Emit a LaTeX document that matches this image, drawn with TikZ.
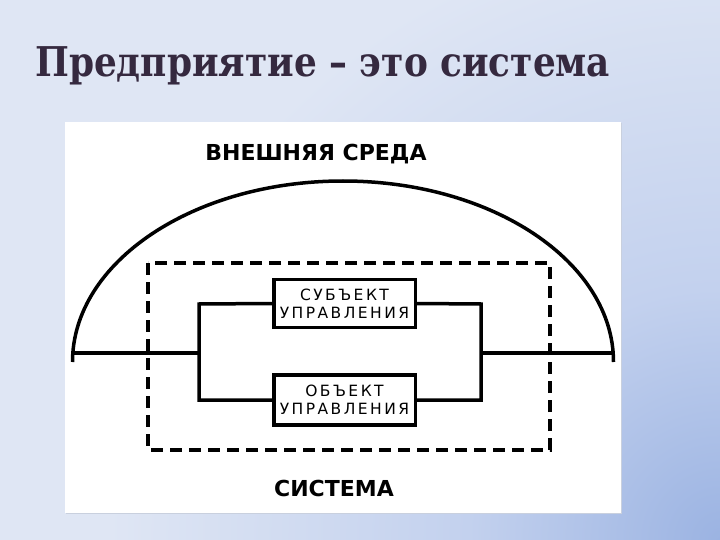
\documentclass[tikz,border=0pt]{standalone}
\usepackage{fontspec}
\usetikzlibrary{shadings}
\setmainfont{DejaVu Serif}
\newfontfamily\titlefont{DejaVu Serif}
\newfontfamily\diagbold{DejaVu Sans}
\newfontfamily\diagthin[LetterSpace=16]{DejaVu Sans}
\definecolor{bgA}{HTML}{DFE6F4}
\definecolor{bgM}{HTML}{C3D1EE}
\definecolor{bgD}{HTML}{9BB3E2}
\definecolor{titlecol}{HTML}{35293F}
\definecolor{paneledge}{HTML}{C9D0DE}
\pgfdeclareradialshading{cornerglow}{\pgfpoint{0bp}{0bp}}{color(0bp)=(bgD); color(7bp)=(bgM); color(17bp)=(bgA); color(50bp)=(bgA)}
\tikzset{
  solidline/.style={line width=3.5pt, black},
  dashline/.style={line width=4pt, black, dash pattern=on 12pt off 7pt},
  ctrlbox/.style={draw=black, line width=3.5pt, fill=white, minimum width=141.5pt,
    minimum height=48pt, inner sep=0pt, align=center,
    font=\diagthin\fontsize{15.5}{18}\selectfont},
  biglabel/.style={font=\diagbold\bfseries\fontsize{22}{24}\selectfont, inner sep=0pt}
}
\begin{document}
\begin{tikzpicture}[x=1pt,y=-1pt]
\useasboundingbox (0,0) rectangle (720,540);
% background
\fill[bgA] (0,0) rectangle (720,540);
\begin{scope}
  \clip (0,0) rectangle (720,540);
  \shade[shading=cornerglow] (720,540) circle[radius=900];
\end{scope}
% title
\node[anchor=base west, inner sep=0pt, text=titlecol,
  font=\titlefont\bfseries\fontsize{41}{46}\selectfont] (title) at (35,77)
  {\scalebox{0.875}[1]{Предприятие – это система}};
% panel
\fill[paneledge] (66,123) rectangle (622,514);
\fill[white] (65,122) rectangle (621,513);
% labels
\node[biglabel] (env) at (316,154) {ВНЕШНЯЯ СРЕДА};
\node[biglabel] (sys) at (334,488) {СИСТЕМА};
% arc
\coordinate (arcL) at (72.5,362);
\coordinate (arcR) at (613.5,362);
\draw[solidline] (arcL) arc[start angle=180, end angle=0, x radius=270.5, y radius=-181];
% dashed system boundary
\draw[dashline] (148,263) rectangle (550,450);
% boxes
\node[ctrlbox] (sub) at (344.5,303.5) {СУБЪЕКТ\\УПРАВЛЕНИЯ};
\node[ctrlbox, minimum height=50pt] (obj) at (344.5,400) {ОБЪЕКТ\\УПРАВЛЕНИЯ};
% connector loop
\coordinate (lt) at (199,304);
\coordinate (lb) at (199,400);
\coordinate (rt) at (481,304);
\coordinate (rb) at (481,400);
\coordinate (lm) at (199,353);
\coordinate (rm) at (481,353);
\coordinate (hl) at (71,353);
\coordinate (hr) at (615,353);
\draw[solidline, line join=miter] (sub.west) -- (lt) -- (lb) -- (obj.west);
\draw[solidline, line join=miter] (sub.east) -- (rt) -- (rb) -- (obj.east);
\draw[solidline] (hl) -- (lm);
\draw[solidline] (rm) -- (hr);
\end{tikzpicture}
\end{document}
